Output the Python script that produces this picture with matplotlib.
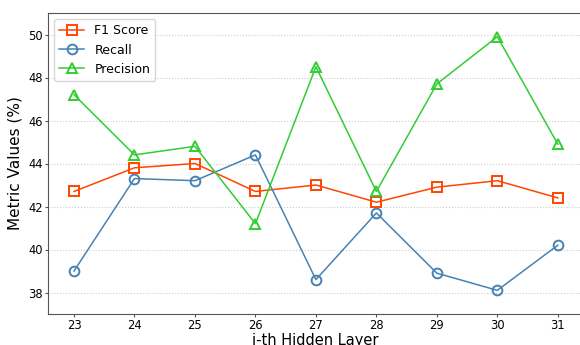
import matplotlib.pyplot as plt

layers = [23, 24, 25, 26, 27, 28, 29, 30, 31]
f1 = [42.7, 43.8, 44.0, 42.7, 43.0, 42.2, 42.9, 43.2, 42.4]
recall = [39.0, 43.3, 43.2, 44.4, 38.6, 41.7, 38.9, 38.1, 40.2]
precision = [47.2, 44.4, 44.8, 41.2, 48.5, 42.7, 47.7, 49.9, 44.9]

fig = plt.figure(figsize=(5.8, 3.45), dpi=100)
# axes run slightly past the right edge, like the cropped original
ax = fig.add_axes([48 / 580, 31 / 345, 534 / 580, 301 / 345])

ax.plot(layers, f1, color='orangered', marker='s', markersize=7, markerfacecolor='none',
        markeredgewidth=1.4, linewidth=1.1, label='F1 Score')
ax.plot(layers, recall, color='steelblue', marker='o', markersize=7, markerfacecolor='none',
        markeredgewidth=1.4, linewidth=1.1, label='Recall')
ax.plot(layers, precision, color='limegreen', marker='^', markersize=7, markerfacecolor='none',
        markeredgewidth=1.4, linewidth=1.1, label='Precision')

ax.set_xticks(layers)
ax.set_yticks([38, 40, 42, 44, 46, 48, 50])
ax.set_ylim(37, 51)
ax.set_xlim(22.57, 31.4)
ax.tick_params(labelsize=8.3, length=2.5, pad=1, color='#555555')
ax.set_xlabel("i-th Hidden Layer", fontsize=10.5)
ax.xaxis.set_label_coords(0.5, -0.062)
ax.set_ylabel("Metric Values (%)", fontsize=11, labelpad=4)
ax.grid(axis='y', linestyle=':', color='#cccccc', linewidth=0.8)
for s in ax.spines.values():
    s.set_color('#555555')
ax.legend(loc='upper left', fontsize=9)

plt.savefig("out.png")
